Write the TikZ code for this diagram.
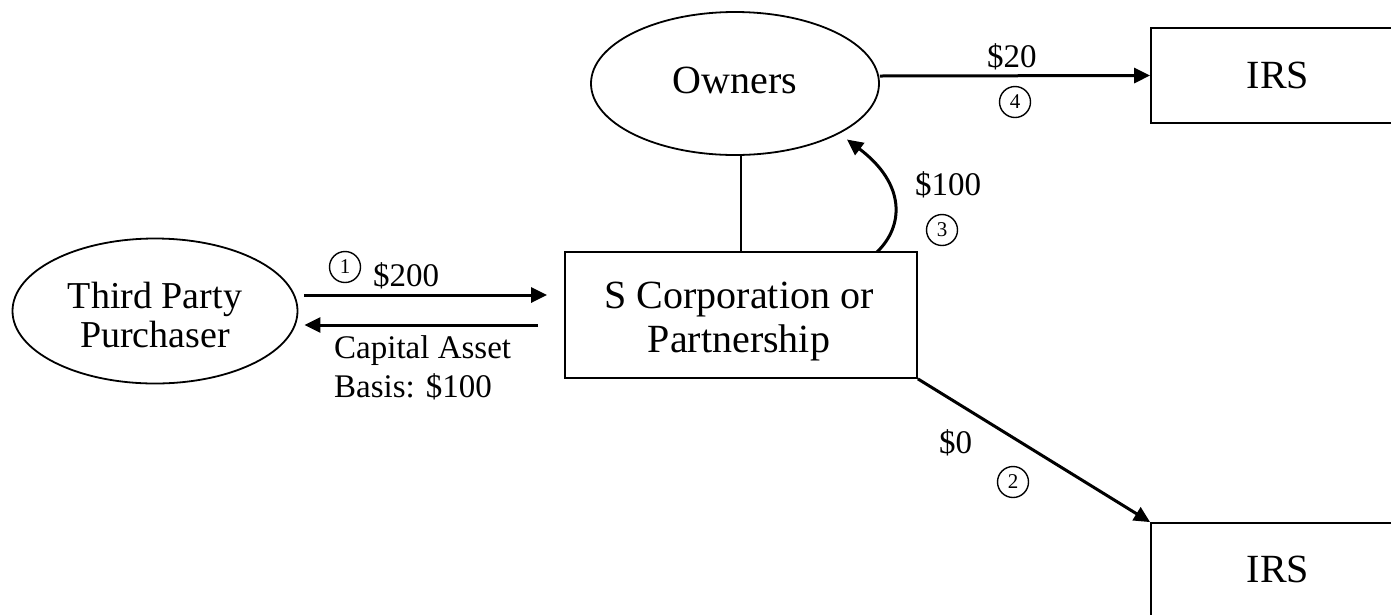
\documentclass[tikz,border=0pt]{standalone}
\usepackage{fontspec}
\setmainfont{Liberation Serif}
\usetikzlibrary{arrows.meta,shapes.geometric}
\tikzset{
  shapeline/.style={draw, line width=1.8pt, inner sep=0pt},
  box/.style={shapeline, rectangle},
  oval/.style={shapeline, ellipse},
  bigtext/.style={font=\fontsize{40}{44}\selectfont, align=center, inner sep=0pt, anchor=base},
  flow/.style={line width=3pt, -{Triangle[length=16pt,width=15pt]}},
  lbl/.style={font=\fontsize{33}{39}\selectfont, align=left, inner sep=0pt, anchor=base west},
  circ/.style={draw, circle, line width=1.4pt, minimum size=31pt, inner sep=0pt, font=\fontsize{21}{21}\selectfont}
}
\begin{document}
\begin{tikzpicture}[x=1pt,y=-1pt]
\useasboundingbox (0,0) rectangle (1391,614);
\clip (0,0) rectangle (1391,614);
% shapes
\node[oval, minimum width=285pt, minimum height=145pt] (tp) at (155,311) {};
\node[box, minimum width=352pt, minimum height=126pt] (sc) at (741,315) {};
\node[oval, minimum width=288pt, minimum height=143pt] (ow) at (735,83.5) {};
\node[box, minimum width=250pt, minimum height=95pt] (irsa) at (1276,75.5) {};
\node[box, minimum width=250pt, minimum height=100pt] (irsb) at (1276,573) {};
% texts (base anchor = baseline of the last line)
\node[bigtext, font=\fontsize{38}{39}\selectfont] (tpt) at (155,347) {Third Party\\Purchaser};
\node[bigtext] (sct) at (739,352) {S Corporation or\\Partnership};
\node[bigtext] (owt) at (735,93) {Owners};
\node[bigtext] (irsat) at (1278,88) {IRS};
\node[bigtext] (irsbt) at (1278,582) {IRS};
% connectors
\draw[flow] ([xshift=6pt,yshift=16pt]tp.east) -- ([xshift=-17pt,yshift=20pt]sc.west);
\draw[flow] ([xshift=-26pt,yshift=-10pt]sc.west) -- ([xshift=6pt,yshift=-14pt]tp.east);
\draw[line width=1.8pt] (sc.north |- ow.south) -- (sc.north);
\coordinate (c3) at (877,252);
\draw[flow] (c3) .. controls (904,226) and (906,184) .. ([xshift=112pt,yshift=-56pt]ow.center);
\draw[flow] ([yshift=7.5pt]ow.east) -- (irsa.west);
\draw[flow] (sc.south east) -- (irsb.north west);
% labels
\node[circ] (n1) at (345,267) {1};
\node[lbl] (l1) at (373,286) {\$200};
\node[lbl] (l1b) at (334,397) {Capital Asset\\Basis: \$100};
\node[lbl] (l3) at (915,195) {\$100};
\node[circ] (n3) at (942,230) {3};
\node[lbl] (l4) at (987,67) {\$20};
\node[circ] (n4) at (1015,102) {4};
\node[lbl] (l2) at (939,453) {\$0};
\node[circ] (n2) at (1013,482) {2};
\end{tikzpicture}
\end{document}
